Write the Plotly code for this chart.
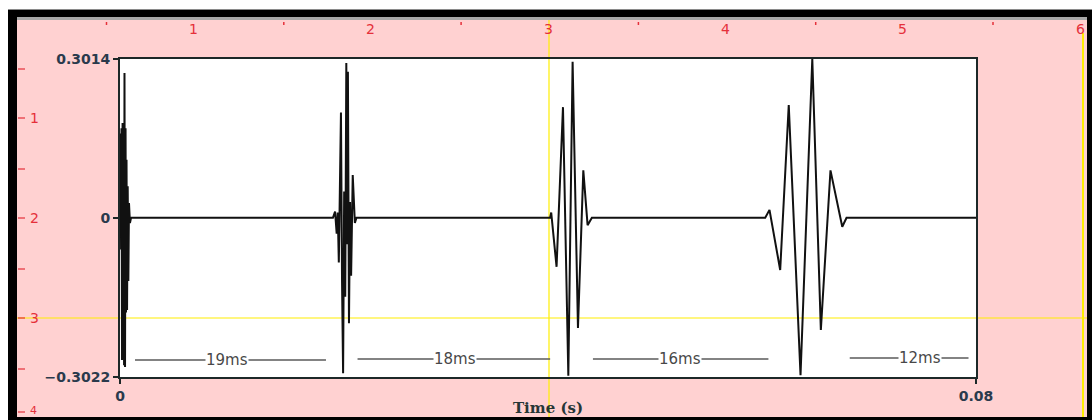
import plotly.graph_objects as go

W, H = 1092, 420

# ---- waveform vertices (time in ms, amplitude) ----
time_ms = [
    0.0, 0.05, 0.10, 0.14, 0.19, 0.24, 0.29, 0.33, 0.38, 0.42, 0.47, 0.52, 0.56, 0.61, 0.66,
    0.72, 0.78, 0.84, 0.93, 1.03,
    19.9, 20.1, 20.25, 20.35, 20.45, 20.55, 20.65, 20.75, 20.85, 20.95, 21.05, 21.15, 21.25,
    21.3, 21.4, 21.5, 21.6, 21.75, 21.85, 21.95, 22.1,
    40.2, 40.3, 40.8, 41.4, 41.9, 42.3, 42.8, 43.3, 43.7, 44.1,
    60.3, 60.7, 61.7, 62.5, 63.6, 64.7, 65.5, 66.4, 67.5, 67.9,
    80.0,
]
amplitude = [
    0.0, 0.16, -0.06, 0.17, -0.27, 0.18, -0.17, 0.12, -0.28, 0.275, -0.283, 0.17, -0.18, 0.11, -0.175,
    0.06, -0.12, 0.028, -0.01, 0.0,
    0.0, 0.012, -0.03, 0.01, -0.085, 0.05, 0.20, -0.12, -0.295, 0.05, -0.15, 0.294, -0.05,
    0.277, -0.20, 0.03, -0.11, 0.081, 0.02, -0.01, 0.0,
    0.0, 0.01, -0.093, 0.210, -0.30, 0.296, -0.209, 0.090, -0.014, 0.0,
    0.0, 0.015, -0.099, 0.214, -0.299, 0.3014, -0.213, 0.090, -0.017, 0.0,
    0.0,
]

# ---- interval annotations ----
interval_labels = ["19ms", "18ms", "16ms", "12ms"]
interval_start_ms = [1.4, 22.2, 44.2, 68.2]
interval_end_ms = [19.25, 40.2, 60.6, 79.3]
interval_text_ms = [10.0, 31.3, 52.3, 74.8]
interval_y = [-0.270, -0.268, -0.268, -0.266]

# ---- axis ticks ----
x_tickvals = [0.0, 0.08]
x_ticktext = ["0", "0.08"]
y_tickvals = [0.3014, 0.0, -0.3022]
y_ticktext = ["0.3014", "0", "\u22120.3022"]
y_range = [-0.3022, 0.3014]

# ---- ruler labels (decorative frame) ----
top_ruler_labels = ["1", "2", "3", "4", "5", "6"]
left_ruler_labels = ["1", "2", "3", "4"]

def X(px):
    return px / W

def Y(py):
    return 1 - py / H

DARK = "#1c2828"
PINK = "#ffd1d1"
RED = "#e5303a"
YELLOW = "#ffee00"

fig = go.Figure()
fig.add_trace(go.Scatter(
    x=[t / 1000 for t in time_ms], y=amplitude, mode="lines",
    line=dict(color="#111111", width=2), hoverinfo="skip", showlegend=False,
))

shapes = []
def prect(x0, y0, x1, y1, color, layer="below"):
    shapes.append(dict(type="rect", xref="paper", yref="paper",
                       x0=X(x0), x1=X(x1), y0=Y(y1), y1=Y(y0),
                       fillcolor=color, line=dict(width=0), layer=layer))

def pline(x0, y0, x1, y1, color, width, layer="below"):
    shapes.append(dict(type="line", xref="paper", yref="paper",
                       x0=X(x0), x1=X(x1), y0=Y(y0), y1=Y(y1),
                       line=dict(color=color, width=width), layer=layer))

# window frame
prect(8, 9, 1092, 10, "#8a8a8a")
prect(8, 10, 1092, 420, "black")
prect(17, 17, 1087, 20, "#a8a8a8")
prect(17, 20, 1087, 417, PINK)
# plot area background
prect(120, 59, 976, 377, "white")
# yellow cursor lines
pline(17, 318, 1087, 318, YELLOW, 1.2)
pline(549, 20, 549, 417, YELLOW, 1.2)
pline(1083, 33, 1083, 417, YELLOW, 2)

# ruler marks
spacing_x = 177.3
for k in range(len(top_ruler_labels)):
    cx = 106.5 + spacing_x * k
    pline(cx, 22, cx, 25, RED, 1.5)
spacing_y = 100
for k in range(len(left_ruler_labels)):
    pline(18, 69 + spacing_y * k, 25, 69 + spacing_y * k, RED, 1.2)
    pline(18, min(118 + spacing_y * k, 412), 25, min(118 + spacing_y * k, 412), RED, 1.2)

annotations = []
for k, lab in enumerate(top_ruler_labels):
    annotations.append(dict(xref="paper", yref="paper", x=X(193.5 + spacing_x * k), y=Y(29),
                            text=lab, showarrow=False, xanchor="center", yanchor="middle",
                            font=dict(family="DejaVu Sans", size=14, color=RED)))
for k, lab in enumerate(left_ruler_labels):
    yy = 118 + spacing_y * k
    size = 14
    if yy > 405:
        yy, size = 410, 11
    annotations.append(dict(xref="paper", yref="paper", x=X(28), y=Y(yy),
                            text=lab, showarrow=False, xanchor="left", yanchor="middle",
                            font=dict(family="DejaVu Sans", size=size, color=RED)))

# interval lines & labels
for lab, s, e, tm, yv in zip(interval_labels, interval_start_ms, interval_end_ms, interval_text_ms, interval_y):
    shapes.append(dict(type="line", xref="x", yref="y", x0=s / 1000, x1=e / 1000, y0=yv, y1=yv,
                       line=dict(color="#5a5a5a", width=1.5), layer="above"))
    annotations.append(dict(xref="x", yref="y", x=tm / 1000, y=yv, text=lab, showarrow=False,
                            xanchor="center", yanchor="middle", bgcolor="white", borderpad=0,
                            font=dict(family="DejaVu Sans", size=15, color="#484848")))

fig.update_layout(
    width=W, height=H, margin=dict(l=0, r=0, t=0, b=0),
    paper_bgcolor="white", plot_bgcolor="rgba(0,0,0,0)",
    shapes=shapes, annotations=annotations, showlegend=False,
    xaxis=dict(domain=[X(120), X(976)], range=[0, 0.08], tickvals=x_tickvals, ticktext=x_ticktext,
               showline=True, mirror=True, linecolor=DARK, linewidth=2,
               ticks="outside", ticklen=5, tickwidth=2, tickcolor=DARK,
               showgrid=False, zeroline=False, automargin=False,
               tickfont=dict(family="DejaVu Sans", size=14, color="#2a3a4c", weight="bold"),
               title=dict(text="Time (s)", standoff=0,
                          font=dict(family="DejaVu Serif", size=15, color="#263636", weight="bold"))),
    yaxis=dict(domain=[Y(377), Y(59)], range=y_range, tickvals=y_tickvals, ticktext=y_ticktext,
               showline=True, mirror=True, linecolor=DARK, linewidth=2,
               ticks="outside", ticklen=5, tickwidth=2, tickcolor=DARK,
               showgrid=False, zeroline=False, automargin=False,
               tickfont=dict(family="DejaVu Sans", size=14, color="#2a3a4c", weight="bold")),
)

fig.write_html("out.html")
